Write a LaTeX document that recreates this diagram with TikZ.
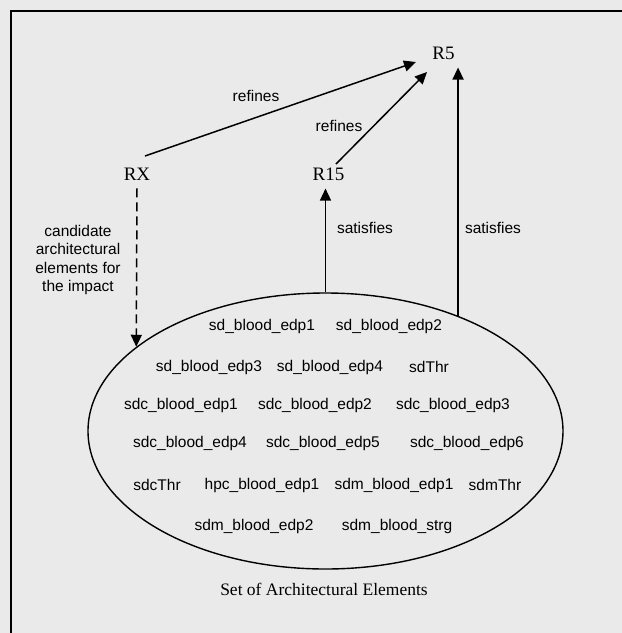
\documentclass[tikz,border=0pt]{standalone}
\usepackage{fontspec}
\setmainfont{Liberation Serif}
\setsansfont{Liberation Sans}
\usetikzlibrary{arrows.meta}
\usetikzlibrary{shapes.geometric}
\definecolor{bgcol}{RGB}{234,234,234}
\tikzstyle{req}=[font=\fontsize{19}{21}\selectfont, inner sep=8pt]
\tikzstyle{elem}=[font=\sffamily\fontsize{15.5}{18.3}\selectfont, inner sep=0pt]
\tikzstyle{lbl}=[elem, align=center]
\tikzstyle{arr}=[line width=1.5pt, -{Triangle[length=12pt,width=11pt]}]
\tikzstyle{elset}=[draw, ellipse, line width=1.4pt, inner sep=0pt, minimum width=475pt, minimum height=276pt]

\begin{document}
\begin{tikzpicture}[x=1pt, y=-1pt]
        \fill[bgcol] (0,0) rectangle (622,633);
        \useasboundingbox (0,0) rectangle (622,633);
        \draw[line width=2.5pt] (11,633) -- (11,11) -- (622,11);
        % requirements
        \node[req] (R5)  at (443.5, 53)  {R5};
        \node[req] (RX)  at (137, 174)   {RX};
        \node[req] (R15) at (328.5, 174) {R15};
        % set of architectural elements
        \node[elset] (set) at (325.5, 431) {};
        \node[elem] (sdbe1)  at (262, 326) {sd\_blood\_edp1};
        \node[elem] (sdbe2)  at (389, 326) {sd\_blood\_edp2};
        \node[elem] (sdbe3)  at (209, 367) {sd\_blood\_edp3};
        \node[elem] (sdbe4)  at (330, 367) {sd\_blood\_edp4};
        \node[elem] (sdthr)  at (429, 367) {sdThr};
        \node[elem] (sdcbe1) at (181, 405) {sdc\_blood\_edp1};
        \node[elem] (sdcbe2) at (315, 405) {sdc\_blood\_edp2};
        \node[elem] (sdcbe3) at (453, 405) {sdc\_blood\_edp3};
        \node[elem] (sdcbe4) at (190, 443) {sdc\_blood\_edp4};
        \node[elem] (sdcbe5) at (323, 443) {sdc\_blood\_edp5};
        \node[elem] (sdcbe6) at (467, 443) {sdc\_blood\_edp6};
        \node[elem] (sdcthr) at (157, 485) {sdcThr};
        \node[elem] (hpcbe1) at (262, 485) {hpc\_blood\_edp1};
        \node[elem] (sdmbe1) at (394, 485) {sdm\_blood\_edp1};
        \node[elem] (sdmthr) at (495, 485) {sdmThr};
        \node[elem] (sdmbe2) at (254, 526) {sdm\_blood\_edp2};
        \node[elem] (sdmbs)  at (397, 526) {sdm\_blood\_strg};
        \node[font=\fontsize{17.5}{20}\selectfont] (cap) at (324, 589) {Set of Architectural Elements};
        % links
        \draw[arr] ([xshift=8pt,yshift=18pt]RX.center) -- ([xshift=-27.5pt,yshift=-9pt]R5.center);
        \draw[arr] ([xshift=7.5pt,yshift=10pt]R15.center) -- ([xshift=-16.5pt,yshift=-19pt]R5.center);
        \draw[arr] (set.north) -- (set.north |- R15.south);
        \draw[arr] (set.41.4) -- (set.41.4 |- R5.south);
        \draw[arr, dash pattern=on 9pt off 5pt] (RX.south) -- (set.156);
        \node[lbl] (ref1) at (256, 96)  {refines};
        \node[lbl] (ref2) at (339, 126) {refines};
        \node[lbl] (sat1) at (365, 228) {satisfies};
        \node[lbl] (sat2) at (493, 228) {satisfies};
        \node[lbl] (cand) at (78, 260)  {candidate\\architectural\\elements for\\the impact};
    \end{tikzpicture}
\end{document}
